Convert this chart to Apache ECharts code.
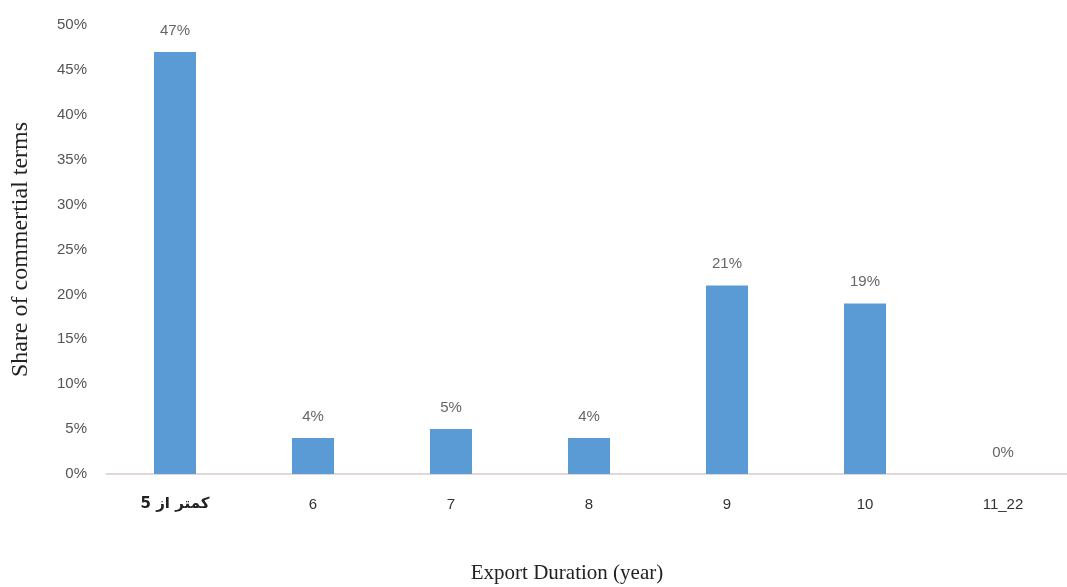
<!DOCTYPE html>
<html>
<head>
<meta charset="utf-8">
<script src="https://cdn.jsdelivr.net/npm/echarts@6/dist/echarts.min.js"></script>
<style>html,body{margin:0;padding:0;background:#fff}#c{width:1067px;height:587px}</style>
</head>
<body>
<div id="c"></div>
<script>
var categories = ['\u202Bکمتر از 5\u202C', '6', '7', '8', '9', '10', '11_22'];
var shares = [47, 4, 5, 4, 21, 19, 0];
var yTicks = [0, 5, 10, 15, 20, 25, 30, 35, 40, 45, 50];

var chart = echarts.init(document.getElementById('c'));
chart.setOption({
  animation: false,
  backgroundColor: '#ffffff',
  grid: { left: 106, right: -5, top: 25, bottom: 113, containLabel: false, outerBoundsMode: 'none' },
  xAxis: {
    type: 'category',
    data: categories,
    name: 'Export Duration (year)',
    nameLocation: 'middle',
    nameGap: 89,
    nameTextStyle: { fontFamily: 'Liberation Serif', fontSize: 21, color: '#222', padding: [0, 44, 0, 0] },
    axisLine: { lineStyle: { color: '#d6cccc', width: 1.5 } },
    axisTick: { show: false },
    axisLabel: {
      margin: 23,
      fontFamily: 'Liberation Sans, DejaVu Sans',
      fontSize: 15,
      color: '#333',
      formatter: function (v, i) { return i === 0 ? '{b|' + v + '}' : v; },
      rich: { b: { fontWeight: 'bold', fontSize: 15, color: '#222', fontFamily: 'DejaVu Sans' } }
    }
  },
  yAxis: {
    type: 'value',
    min: yTicks[0],
    max: yTicks[yTicks.length - 1],
    interval: 5,
    name: 'Share of commertial terms',
    nameLocation: 'middle',
    nameGap: 73,
    nameTextStyle: { fontFamily: 'Liberation Serif', fontSize: 24, color: '#222' },
    axisLine: { show: false },
    axisTick: { show: false },
    splitLine: { show: false },
    axisLabel: {
      margin: 19,
      fontFamily: 'Liberation Sans',
      fontSize: 15,
      color: '#555',
      formatter: function (v) { return v + '%'; }
    }
  },
  series: [{
    type: 'bar',
    data: shares,
    barWidth: 42,
    itemStyle: { color: '#5b9bd5' },
    label: {
      show: true,
      position: 'top',
      distance: 14,
      fontFamily: 'Liberation Sans',
      fontSize: 15,
      color: '#666',
      formatter: function (p) { return p.value + '%'; }
    }
  }]
});
</script>
</body>
</html>
